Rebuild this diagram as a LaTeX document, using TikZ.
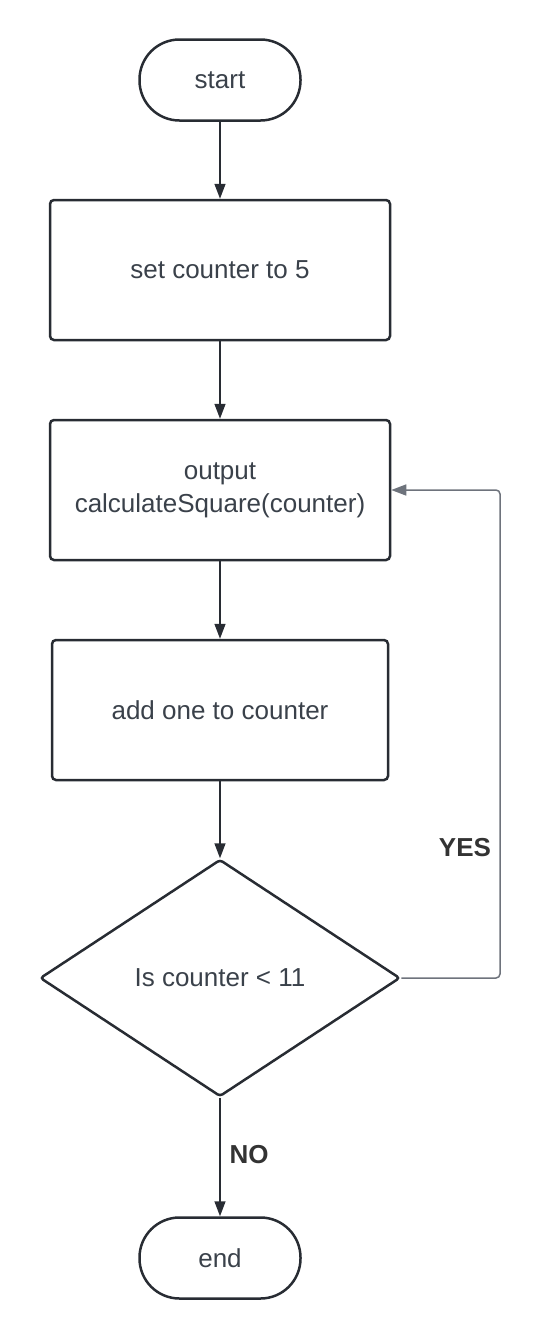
\documentclass[tikz,border=0pt]{standalone}
\usepackage{fontspec}
\setmainfont{Liberation Sans}
\usetikzlibrary{shapes.geometric,arrows.meta}
\definecolor{txtgray}{HTML}{3A414A}
\definecolor{edgegray}{HTML}{282C33}
\definecolor{loopgray}{HTML}{6E737C}
\definecolor{lblgray}{HTML}{333333}
\begin{document}
\begin{tikzpicture}[x=1pt,y=-1pt,
  every node/.style={text=txtgray,font=\fontsize{26}{33}\selectfont},
  term/.style={draw=edgegray,line width=2.5pt,rectangle,rounded corners=40pt,minimum width=161pt,minimum height=81pt,inner sep=0pt},
  proc/.style={draw=edgegray,line width=2.5pt,rectangle,rounded corners=4pt,minimum width=340pt,minimum height=140pt,inner sep=0pt,align=center},
  dec/.style={draw=edgegray,line width=2.5pt,diamond,aspect=1.52,rounded corners=3pt,minimum width=360pt,minimum height=237pt,inner sep=0pt},
  flow/.style={draw=edgegray,line width=1.5pt,-{Triangle[length=15pt,width=11pt]}},
  back/.style={draw=loopgray,line width=1.5pt,rounded corners=4pt,-{Triangle[length=15pt,width=11pt]}},
  lbl/.style={text=lblgray,font=\fontsize{26}{33}\selectfont\bfseries}]
\useasboundingbox (0,0) rectangle (540,1339);

\node[term] (start) at (220,80) {start};
\node[proc] (setc) at (220,270) {set counter to 5};
\node[proc] (outc) at (220,490) {output\\calculateSquare(counter)};
\node[proc,minimum width=336pt] (addc) at (220,710) {add one to counter};
\node[dec] (test) at (220,978) {Is counter < 11};
\node[term] (stop) at (220,1258) {end};

\path[flow] (start) -- (setc);
\path[flow] (setc) -- (outc);
\path[flow] (outc) -- (addc);
\path[flow] (addc) -- (test);
\path[flow] (test) -- (stop);

\coordinate (yesturn) at (500,978);
\path[back] (test.east) -- (yesturn) |- (outc.east);

\node[lbl] (yes) at (465,848) {YES};
\node[lbl] (no) at (249,1155) {NO};
\end{tikzpicture}
\end{document}
